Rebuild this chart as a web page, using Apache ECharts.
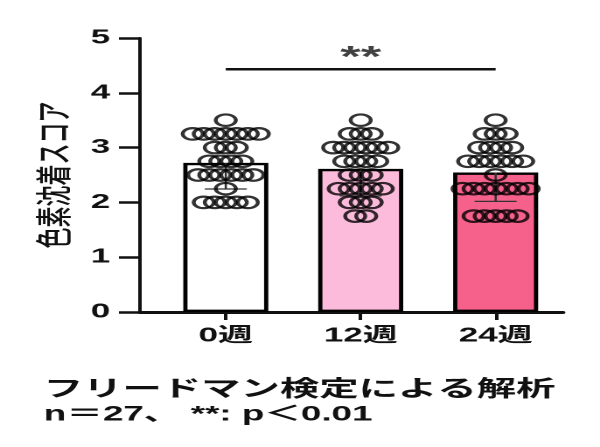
<!DOCTYPE html>
<html>
<head>
<meta charset="utf-8">
<script src="https://cdn.jsdelivr.net/npm/echarts@6/dist/echarts.min.js"></script>
<style>
  html, body { margin: 0; padding: 0; background: #fff; overflow: hidden; }
  /* the reference picture is stretched horizontally; draw narrow and stretch */
  #chart { width: 343px; height: 447px; transform: scaleX(1.7493); transform-origin: 0 0; }
</style>
</head>
<body>
<div id="chart"></div>
<script>
// ---- data ----
const categories = ['0週', '12週', '24週'];
const scores0w  = [3.5, 3.25, 3.25, 3.25, 3.25, 3.25, 3.25, 3.25, 3.0, 3.0, 3.0,
                   2.75, 2.75, 2.75, 2.75, 2.5, 2.5, 2.5, 2.5, 2.5, 2.5, 2.25,
                   2.0, 2.0, 2.0, 2.0, 2.0];
const scores12w = [3.5, 3.25, 3.25, 3.25, 3.0, 3.0, 3.0, 3.0, 3.0, 3.0,
                   2.75, 2.75, 2.75, 2.75, 2.5, 2.5, 2.5, 2.25, 2.25, 2.25, 2.25, 2.25,
                   2.0, 2.0, 2.0, 1.75, 1.75];
const scores24w = [3.5, 3.25, 3.25, 3.25, 3.0, 3.0, 3.0, 3.0,
                   2.75, 2.75, 2.75, 2.75, 2.75, 2.75, 2.5,
                   2.25, 2.25, 2.25, 2.25, 2.25, 2.25, 2.25,
                   1.75, 1.75, 1.75, 1.75, 1.75];
const barColors = ['#ffffff', '#fcbbdb', '#f6618c'];
const yMin = 0, yMax = 5, yInterval = 1;
const yAxisName = '色素沈着スコア';
const sigFrom = '0週', sigTo = '24週', sigLevel = 4.43, sigText = '**';
const note1 = 'フリードマン検定による解析';
const note2 = 'n＝27、 **: p＜0.01';

// ---- derived statistics ----
const groups = [scores0w, scores12w, scores24w];
const mean = a => a.reduce((s, v) => s + v, 0) / a.length;
const sd = a => { const m = mean(a); return Math.sqrt(a.reduce((s, v) => s + (v - m) * (v - m), 0) / (a.length - 1)); };
const means = groups.map(mean);
const sds = groups.map(sd);

// beeswarm: spread equal values side by side
const dotGap = 6.3;
const scatterData = [];
groups.forEach((g, gi) => {
  const counts = {};
  g.forEach(v => counts[v] = (counts[v] || 0) + 1);
  const seen = {};
  g.forEach(v => {
    const k = seen[v] || 0; seen[v] = k + 1;
    const off = (k - (counts[v] - 1) / 2) * dotGap;
    scatterData.push({ value: [gi, v], symbolOffset: [off, 0] });
  });
});

const font = "'Liberation Sans', Arial, 'Noto Sans CJK JP', sans-serif";
const chart = echarts.init(document.getElementById('chart'), null, { devicePixelRatio: 2 });

chart.setOption({
  animation: false,
  backgroundColor: '#fff',
  title: [
    { text: note1, left: 25, top: 379, padding: 0,
      textStyle: { fontFamily: font, fontSize: 22.5, fontWeight: 'bold', color: '#111' } },
    { text: note2, left: 25, top: 404, padding: 0,
      textStyle: { fontFamily: font, fontSize: 21, fontWeight: 'bold', color: '#111' } }
  ],
  grid: [
    { left: 90.5, width: 231.4, top: 38, height: 274 },
    { left: 80, width: 241.7, top: 38, height: 274 }
  ],
  xAxis: [
    { type: 'category', gridIndex: 0, data: categories,
      axisLine: { show: false },
      axisTick: { show: true, alignWithLabel: true, length: 8, lineStyle: { color: '#111', width: 2 } },
      axisLabel: { margin: 14, fontFamily: font, fontSize: 20, fontWeight: 'bold', color: '#111' } },
    { type: 'value', gridIndex: 1, min: 0, max: 1,
      axisLine: { show: true, onZero: false, lineStyle: { color: '#111', width: 3 } },
      axisTick: { show: false }, axisLabel: { show: false }, splitLine: { show: false } }
  ],
  yAxis: [
    { type: 'value', gridIndex: 0, min: yMin, max: yMax, interval: yInterval, offset: 10.5,
      name: yAxisName, nameLocation: 'middle', nameGap: 35, nameRotate: 90,
      nameTextStyle: { fontFamily: "'Noto Sans CJK JP', sans-serif", fontSize: 21, fontWeight: 500, color: '#111' },
      axisLine: { show: true, lineStyle: { color: '#111', width: 2 } },
      axisTick: { show: true, length: 12, lineStyle: { color: '#111', width: 2.5 } },
      axisLabel: { margin: 17, fontFamily: font, fontSize: 20, fontWeight: 'bold', color: '#111' },
      splitLine: { show: false } },
    { type: 'value', gridIndex: 1, min: yMin, max: yMax, show: false }
  ],
  series: [
    { type: 'bar', xAxisIndex: 0, yAxisIndex: 0, barWidth: 48.6, z: 2,
      data: means.map((m, i) => ({ value: m, itemStyle: { color: barColors[i] } })),
      itemStyle: { borderColor: '#000', borderWidth: 2.4 } },
    { type: 'custom', xAxisIndex: 0, yAxisIndex: 0, z: 3,
      data: means.map((m, i) => [i, m - sds[i], m]),
      encode: { x: 0, y: [1, 2] },
      renderItem: (params, api) => {
        const lo = api.coord([api.value(0), api.value(1)]);
        const top = api.coord([api.value(0), api.value(2)]);
        const h = 12;
        const st = { stroke: '#333', lineWidth: 1.3 };
        return { type: 'group', children: [
          { type: 'line', shape: { x1: lo[0], y1: lo[1], x2: top[0], y2: top[1] }, style: st },
          { type: 'line', shape: { x1: lo[0] - h, y1: lo[1], x2: lo[0] + h, y2: lo[1] }, style: st }
        ] };
      } },
    { type: 'scatter', xAxisIndex: 0, yAxisIndex: 0, z: 4,
      symbol: 'circle', symbolSize: 11.5,
      itemStyle: { color: 'rgba(0,0,0,0)', borderColor: '#000', borderWidth: 2.2 },
      data: scatterData },
    { type: 'line', xAxisIndex: 0, yAxisIndex: 0, z: 5, symbol: 'none',
      lineStyle: { color: '#111', width: 2.5 },
      data: [[sigFrom, sigLevel], [sigTo, sigLevel]] },
    { type: 'scatter', xAxisIndex: 0, yAxisIndex: 0, z: 5, symbolSize: 0,
      data: [[categories[1], sigLevel + 0.2]],
      label: { show: true, position: 'inside', formatter: sigText,
        fontFamily: font, fontSize: 30, fontWeight: 'bold', color: '#111' } }
  ]
});
</script>
</body>
</html>
